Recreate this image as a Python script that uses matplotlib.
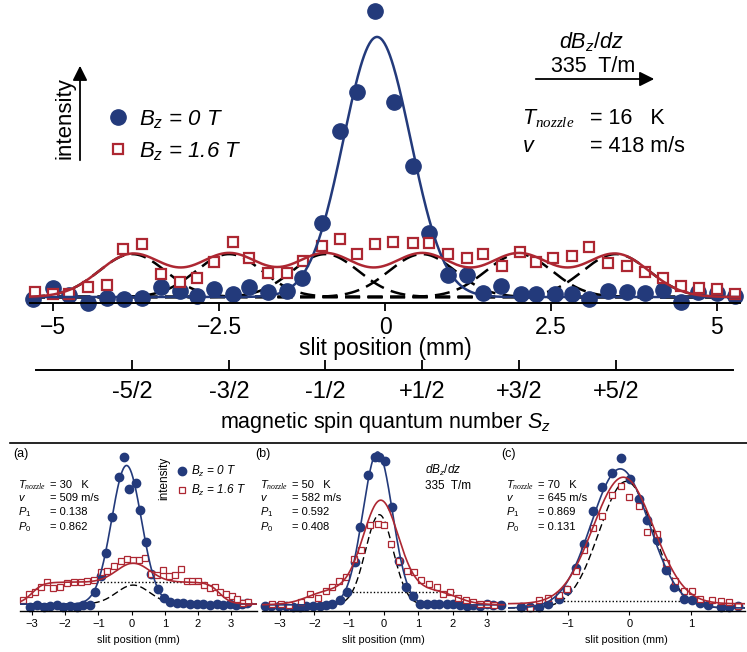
import numpy as np
import matplotlib
matplotlib.use('Agg')
import matplotlib.pyplot as plt
from matplotlib.lines import Line2D

W, H = 747, 652

plt.rcParams['font.family'] = ['Liberation Sans', 'DejaVu Sans']
plt.rcParams['mathtext.fontset'] = 'custom'
plt.rcParams['mathtext.rm'] = 'Liberation Sans'
plt.rcParams['mathtext.it'] = 'Liberation Sans:italic'
plt.rcParams['mathtext.sf'] = 'Liberation Serif:italic'

BLUE = '#233a7b'
RED = '#ad2732'

# ---------------- top panel data (slit position in mm, intensity normalised) ----------------
top_x_b0 = [-5.30, -5.00, -4.76, -4.47, -4.19, -3.93, -3.66, -3.37, -3.09, -2.83, -2.58, -2.29, -2.05,
            -1.76, -1.48, -1.25, -0.95, -0.68, -0.42, -0.15, 0.14, 0.42, 0.66, 0.95, 1.23, 1.48, 1.75,
            2.05, 2.27, 2.56, 2.82, 3.07, 3.36, 3.64, 3.92, 4.19, 4.46, 4.71, 5.00, 5.27]
top_y_b0 = [-0.008, 0.035, 0.008, -0.023, -0.004, -0.008, -0.004, 0.038, 0.023, 0.004, 0.031, 0.012, 0.038,
            0.019, 0.023, 0.073, 0.285, 0.638, 0.788, 1.10, 0.75, 0.504, 0.246, 0.085, 0.085, 0.015, 0.042,
            0.012, 0.012, 0.012, 0.012, -0.008, 0.023, 0.019, 0.015, 0.027, -0.019, 0.019, 0.015, 0.004]
top_x_b16 = [-5.27, -5.00, -4.76, -4.47, -4.19, -3.95, -3.66, -3.37, -3.09, -2.83, -2.58, -2.29, -2.05,
             -1.76, -1.48, -1.23, -0.95, -0.68, -0.42, -0.15, 0.12, 0.42, 0.66, 0.95, 1.23, 1.48, 1.76,
             2.03, 2.27, 2.53, 2.82, 3.07, 3.36, 3.64, 3.92, 4.19, 4.46, 4.73, 5.00, 5.27]
top_y_b16 = [0.019, 0.012, 0.012, 0.038, 0.046, 0.185, 0.204, 0.088, 0.058, 0.073, 0.135, 0.212, 0.150,
             0.092, 0.092, 0.138, 0.196, 0.223, 0.165, 0.204, 0.212, 0.208, 0.208, 0.165, 0.150, 0.165, 0.119,
             0.173, 0.135, 0.150, 0.158, 0.192, 0.131, 0.119, 0.096, 0.073, 0.042, 0.035, 0.031, 0.012]
top_fit_b0 = [-0.12, 1.0, 0.505]          # centre, amplitude, sigma
sz_pos = [-3.81, -2.35, -0.90, 0.56, 2.02, 3.48]
sz_labels = ['-5/2', '-3/2', '-1/2', '+1/2', '+3/2', '+5/2']
sz_amp = 0.165
sz_sigma = 0.5
top_ticks = [-5, -2.5, 0, 2.5, 5]
top_tick_labels = ['\u22125', '\u22122.5', '0', '2.5', '5']

# ---------------- panel (a) ----------------
a_x_b0 = [-3.06, -2.85, -2.65, -2.45, -2.25, -2.05, -1.85, -1.65, -1.45, -1.25, -1.10, -0.93, -0.78, -0.58,
          -0.38, -0.23, -0.07, 0.12, 0.26, 0.44, 0.59, 0.79, 0.99, 1.16, 1.36, 1.56, 1.76, 1.96, 2.16,
          2.36, 2.56, 2.76, 2.96, 3.14, 3.32, 3.47]
a_y_b0 = [-0.02, -0.01, -0.02, -0.015, -0.01, -0.02, -0.015, -0.02, -0.01, -0.01, 0.09, 0.20, 0.37, 0.63,
          0.92, 1.06, 0.83, 0.87, 0.68, 0.45, 0.22, 0.11, 0.045, 0.017, 0.01, 0.005, 0.0, 0.0, 0.0,
          -0.005, 0.0, -0.005, 0.0, -0.005, 0.0, 0.005]
a_x_b16 = [-3.26, -3.09, -2.91, -2.74, -2.55, -2.36, -2.16, -1.95, -1.74, -1.53, -1.33, -1.14, -0.93, -0.73,
           -0.53, -0.33, -0.14, 0.05, 0.24, 0.42, 0.59, 0.77, 0.95, 1.13, 1.31, 1.49, 1.66, 1.83, 2.00,
           2.17, 2.35, 2.52, 2.68, 2.85, 3.02, 3.19, 3.36, 3.50]
a_y_b16 = [0.03, 0.07, 0.09, 0.125, 0.16, 0.115, 0.12, 0.15, 0.157, 0.157, 0.166, 0.173, 0.23, 0.24,
           0.275, 0.31, 0.325, 0.32, 0.318, 0.33, 0.22, 0.21, 0.245, 0.2, 0.21, 0.255, 0.17, 0.168, 0.17,
           0.14, 0.115, 0.125, 0.085, 0.07, 0.06, 0.04, 0.005, 0.015]
a_fit_b0 = [-0.15, 1.0, 0.45]
a_fit_p0 = [0.05, 0.137, 0.5]
a_fit_red = [0.05, 0.137, 0.5]
a_plateau = [0.158, -3.0, 2.65, 0.17]     # level, left edge, right edge, edge width
a_dotted = [0.16, -1.15, 2.2]
a_info = ['= 30   K', '= 509 m/s', '= 0.138', '= 0.862']

# ---------------- panel (b) ----------------
b_x_b0 = [-3.44, -3.25, -3.04, -2.82, -2.62, -2.43, -2.24, -2.04, -1.85, -1.66, -1.49, -1.27, -1.05, -0.83,
          -0.69, -0.45, -0.24, -0.14, 0.04, 0.24, 0.46, 0.65, 0.86, 1.06, 1.25, 1.45, 1.62, 1.83, 2.02,
          2.22, 2.41, 2.60, 2.80, 2.99, 3.18, 3.39]
b_y_b0 = [-0.007, -0.01, -0.01, -0.01, -0.015, -0.015, -0.01, -0.01, -0.007, 0.0, 0.005, 0.033, 0.087, 0.28,
          0.51, 0.85, 0.97, 0.97, 0.94, 0.64, 0.29, 0.114, 0.055, 0.005, 0.005, 0.005, 0.005, 0.005, 0.005,
          0.0, -0.01, 0.0, -0.01, 0.005, -0.003, -0.003]
b_x_b16 = [-3.23, -2.98, -2.75, -2.38, -2.14, -1.90, -1.66, -1.49, -1.30, -1.10, -0.86, -0.64, -0.40, -0.15,
           0.02, 0.22, 0.46, 0.67, 0.87, 1.08, 1.32, 1.54, 1.73, 1.94, 2.17, 2.40, 2.60, 2.80, 3.00, 3.20]
b_y_b16 = [0.005, 0.005, 0.0, 0.02, 0.072, 0.048, 0.092, 0.12, 0.157, 0.185, 0.30, 0.36, 0.52, 0.527,
           0.523, 0.40, 0.29, 0.222, 0.215, 0.16, 0.138, 0.115, 0.072, 0.087, 0.042, 0.033, 0.02, 0.008,
           0.005, 0.0]
b_fit_b0 = [-0.17, 1.0, 0.43]
b_fit_p0 = [-0.12, 0.59, 0.4]
b_fit_red = [-0.08, 0.58, 0.5]
b_plateau = [0.105, -2.2, 2.1, 0.3]
b_dotted = [0.087, -1.0, 2.05]
b_info = ['= 50   K', '= 582 m/s', '= 0.592', '= 0.408']

# ---------------- panel (c) ----------------
c_x_b0 = [-1.76, -1.61, -1.47, -1.32, -1.15, -1.01, -0.87, -0.73, -0.59, -0.45, -0.29, -0.13, 0.01, 0.15,
          0.28, 0.44, 0.59, 0.73, 0.88, 1.01, 1.15, 1.28, 1.49, 1.62, 1.76]
c_y_b0 = [0.01, 0.01, 0.005, 0.027, 0.065, 0.13, 0.285, 0.46, 0.70, 0.87, 0.97, 1.08, 0.93, 0.78,
          0.63, 0.49, 0.27, 0.15, 0.065, 0.058, 0.034, 0.022, 0.005, 0.01, 0.017]
c_x_b16 = [-1.61, -1.47, -1.32, -1.15, -1.01, -0.87, -0.73, -0.59, -0.45, -0.29, -0.13, -0.005, 0.15, 0.28,
           0.45, 0.59, 0.74, 0.88, 1.01, 1.15, 1.34, 1.49, 1.62, 1.76]
c_y_b16 = [-0.002, 0.058, 0.074, 0.094, 0.137, 0.266, 0.417, 0.573, 0.664, 0.813, 0.88, 0.80, 0.734, 0.545,
           0.53, 0.32, 0.194, 0.122, 0.125, 0.065, 0.058, 0.05, 0.041, 0.017]
c_fit_b0 = [-0.15, 1.0, 0.47]
c_fit_p0 = [-0.05, 0.91, 0.44]
c_fit_red = [-0.1, 0.91, 0.49]
c_plateau = [0.03, -6.0, 6.0, 0.3]
c_dotted = [0.052, -1.12, 0.82]
c_info = ['= 70   K', '= 645 m/s', '= 0.869', '= 0.131']

bottom_ticks_ab = [-3, -2, -1, 0, 1, 2, 3]
bottom_ticks_c = [-1, 0, 1]


def gauss(x, c, a, s):
    return a * np.exp(-(x - c) ** 2 / (2 * s ** 2))


def plateau(x, level, left, right, w):
    return level / (1 + np.exp(-(x - left) / w)) / (1 + np.exp((x - right) / w))


def fx(px):
    return px / W


def fy(py):
    return 1 - py / H


fig = plt.figure(figsize=(W / 100, H / 100), dpi=100)

# ---------------- top panel ----------------
ax = fig.add_axes([fx(30), fy(303), 710 / W, 303 / H])
xs = np.linspace(-5.35, 5.35, 800)
for c in sz_pos:
    ax.plot(xs, gauss(xs, c, sz_amp, sz_sigma), color='k', lw=1.8, dashes=(6, 3), zorder=1.5)
red_top = sum(gauss(xs, c, sz_amp, sz_sigma) for c in sz_pos)
ax.plot(top_x_b0, top_y_b0, 'o', color=BLUE, ms=11, mec=BLUE, clip_on=False, zorder=2,
        label=r'$B_z$ = 0 T')
ax.plot(top_x_b16, top_y_b16, 's', mfc='white', mec=RED, mew=1.6, ms=7.5, clip_on=False, zorder=2.2,
        label=r'$B_z$ = 1.6 T')
ax.plot(xs, gauss(xs, *top_fit_b0), color=BLUE, lw=1.8, zorder=2.5)
ax.plot(xs, red_top, color=RED, lw=1.8, zorder=2.6)
ax.set_xlim(-5.35, 5.35)
ax.set_ylim(-0.023, 1.142)
for s in ['left', 'right', 'top']:
    ax.spines[s].set_visible(False)
ax.spines['bottom'].set_linewidth(1.4)
ax.set_yticks([])
ax.set_xticks(top_ticks)
ax.set_xticklabels(top_tick_labels)
ax.tick_params(axis='x', direction='out', length=6, width=1.3, labelsize=16.5, pad=3)
ax.set_xlabel('slit position (mm)', fontsize=16.5, labelpad=-1)
ax.legend(loc='upper left', bbox_to_anchor=(fx(107), fy(108)), bbox_transform=fig.transFigure,
          frameon=False, handlelength=1.0, handletextpad=0.42, labelspacing=0.42,
          borderpad=0, borderaxespad=0, prop={'style': 'italic', 'size': 16})

ax.annotate('', xy=(80, H - 63), xytext=(80, H - 163), xycoords='figure pixels',
            arrowprops=dict(arrowstyle='-|>', color='k', lw=1.3, mutation_scale=22))
fig.text(fx(65), fy(118), 'intensity', rotation=90, fontsize=16, ha='center', va='center')

fig.text(fx(591), fy(42), r'$dB_z/dz$', fontsize=15.5, ha='center', va='center')
fig.text(fx(593), fy(67), '335  T/m', fontsize=15.5, ha='center', va='center')
ax.annotate('', xy=(657, H - 79), xytext=(533, H - 79), xycoords='figure pixels',
            arrowprops=dict(arrowstyle='-|>', color='k', lw=1.3, mutation_scale=22))
fig.text(fx(522), fy(119), r'$T_{\mathsf{nozzle}}$', fontsize=15.5, ha='left', va='center')
fig.text(fx(590), fy(118), '= 16   K', fontsize=15.5, ha='left', va='center')
fig.text(fx(522), fy(147), r'$v$', fontsize=15.5, ha='left', va='center')
fig.text(fx(590), fy(147), '= 418 m/s', fontsize=15.5, ha='left', va='center')

# ---------------- magnetic spin quantum number axis ----------------
axs = fig.add_axes([fx(30), fy(370), 710 / W, 0.0005])
axs.set_xlim(-5.35, 5.35)
axs.set_ylim(0, 1)
for s in ['left', 'right', 'top']:
    axs.spines[s].set_visible(False)
axs.spines['bottom'].set_bounds(-5.26, 5.24)
axs.spines['bottom'].set_linewidth(1.4)
axs.set_yticks([])
axs.set_xticks(sz_pos)
axs.set_xticklabels(sz_labels)
axs.tick_params(axis='x', direction='in', length=7, width=1.3, labelsize=17, pad=8)
axs.set_xlabel(r'magnetic spin quantum number $S_z$', fontsize=15.5, labelpad=5)

fig.add_artist(Line2D([fx(10), 1], [fy(443), fy(443)], transform=fig.transFigure, color='k', lw=1.2))

# ---------------- bottom panels ----------------
panels = [
    ('(a)', 20, 257, (-3.36, 3.78), (-0.05, 1.126), bottom_ticks_ab,
     a_x_b0, a_y_b0, a_x_b16, a_y_b16, a_fit_b0, a_fit_p0, a_fit_red, a_plateau, a_dotted, a_info),
    ('(b)', 262, 505, (-3.52, 3.52), (-0.04, 1.026), bottom_ticks_ab,
     b_x_b0, b_y_b0, b_x_b16, b_y_b16, b_fit_b0, b_fit_p0, b_fit_red, b_plateau, b_dotted, b_info),
    ('(c)', 508, 745, (-1.97, 1.875), (-0.022, 1.15), bottom_ticks_c,
     c_x_b0, c_y_b0, c_x_b16, c_y_b16, c_fit_b0, c_fit_p0, c_fit_red, c_plateau, c_dotted, c_info),
]
row_names = [r'$T_{\mathsf{nozzle}}$', r'$v$', r'$P_{\mathit{1}}$', r'$P_{\mathit{0}}$']
row_y = [485, 498, 512, 527]

bottom_axes = []
for (tag, x0, x1, xl, yl, ticks, xb0, yb0, xb16, yb16, fb0, fp0, fred, plat, dot, info) in panels:
    axb = fig.add_axes([fx(x0), fy(611), (x1 - x0) / W, 163 / H])
    bottom_axes.append(axb)
    xx = np.linspace(xl[0], xl[1], 600)
    axb.plot(xx, gauss(xx, *fp0), color='k', lw=1.0, dashes=(5, 2.5), zorder=1.5)
    axb.plot([dot[1], dot[2]], [dot[0], dot[0]], color='k', lw=1.0, ls=(0, (1, 1.5)), zorder=1.4)
    axb.plot(xb0, yb0, 'o', color=BLUE, ms=6, mec=BLUE, zorder=2, clip_on=False,
             label=r'$B_z$ = 0 T')
    axb.plot(xb16, yb16, 's', mfc='white', mec=RED, mew=0.9, ms=5, zorder=2.2, clip_on=False,
             label=r'$B_z$ = 1.6 T')
    axb.plot(xx, gauss(xx, *fb0), color=BLUE, lw=1.2, zorder=2.5)
    axb.plot(xx, plateau(xx, *plat) + gauss(xx, *fred), color=RED, lw=1.2, zorder=2.6)
    axb.set_xlim(*xl)
    axb.set_ylim(*yl)
    for s in ['left', 'right', 'top']:
        axb.spines[s].set_visible(False)
    axb.spines['bottom'].set_linewidth(1.0)
    axb.set_yticks([])
    axb.set_xticks(ticks)
    axb.tick_params(axis='x', direction='out', length=3, width=0.8, labelsize=8, pad=3)
    axb.set_xlabel('slit position (mm)', fontsize=7.8, labelpad=4)
    fig.text(fx(x0 - 7), fy(454), tag, fontsize=9, ha='left', va='center')
    for name, val, ry in zip(row_names, info, row_y):
        fig.text(fx(x0 - 2), fy(ry), name, fontsize=8, ha='left', va='center')
        fig.text(fx(x0 + 30), fy(ry), val, fontsize=8, ha='left', va='center')

# legend and intensity arrow for panel (a)
bottom_axes[0].legend(loc='upper left', bbox_to_anchor=(fx(176), fy(464)), bbox_transform=fig.transFigure,
                      frameon=False, handlelength=1.0, handletextpad=0.3, labelspacing=0.3,
                      borderpad=0, borderaxespad=0, prop={'style': 'italic', 'size': 8.5})
ax.annotate('', xy=(170, H - 449), xytext=(170, H - 502), xycoords='figure pixels',
            arrowprops=dict(arrowstyle='-|>', color='k', lw=0.9, mutation_scale=10))
fig.text(fx(164), fy(478), 'intensity', rotation=90, fontsize=8.5, ha='center', va='center')

# field gradient arrow in panel (b)
fig.text(fx(443), fy(470), r'$dB_z/dz$', fontsize=8.5, ha='center', va='center')
fig.text(fx(448), fy(486), '335  T/m', fontsize=8.5, ha='center', va='center')
ax.annotate('', xy=(481, H - 496), xytext=(416, H - 496), xycoords='figure pixels',
            arrowprops=dict(arrowstyle='-|>', color='k', lw=0.9, mutation_scale=10))

fig.savefig('out.png', dpi=100)
